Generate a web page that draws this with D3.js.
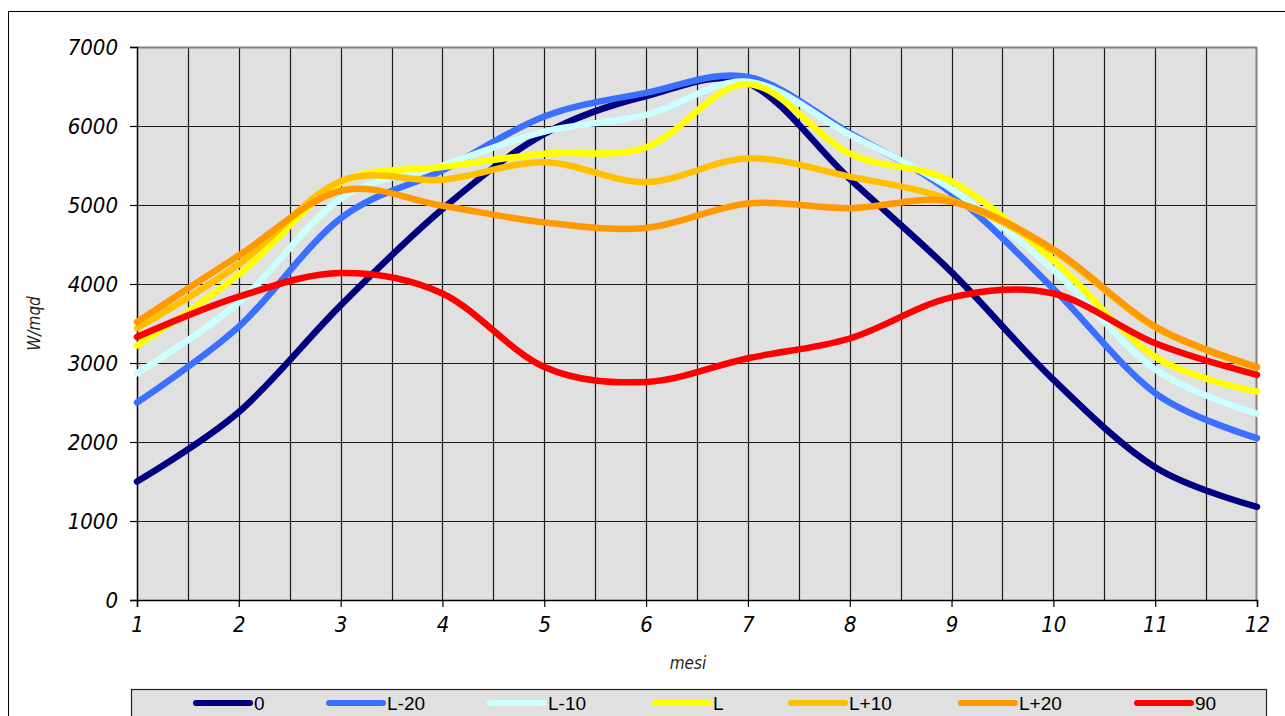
<!DOCTYPE html>
<html>
<head>
<meta charset="utf-8">
<script src="https://cdn.jsdelivr.net/npm/d3@7/dist/d3.min.js"></script>
<style>
  html, body { margin: 0; padding: 0; background: #fff; }
  svg { display: block; }
  .tick-label { font-family: "DejaVu Sans Condensed", "DejaVu Sans", sans-serif; font-stretch: condensed; font-style: italic; font-size: 22px; fill: #000; }
  .axis-title { font-family: "DejaVu Sans Condensed", "DejaVu Sans", sans-serif; font-stretch: condensed; font-style: italic; font-size: 17px; fill: #222; }
  .legend-text { font-family: "Liberation Sans Narrow", "Arial Narrow", sans-serif; font-stretch: condensed; font-size: 19px; fill: #000; }
</style>
</head>
<body>
<svg id="chart" width="1285" height="716"></svg>
<script>
// ---- data ----
const months = [1, 2, 3, 4, 5, 6, 7, 8, 9, 10, 11, 12];
const seriesNames = ["0", "L-20", "L-10", "L", "L+10", "L+20", "90"];
const seriesColors = ["#000080", "#3A6FFF", "#CCFFFF", "#FFFF00", "#FFC000", "#FF9900", "#FF0000"];
const s0   = [1500, 2380, 3730, 4950, 5900, 6380, 6540, 5330, 4150, 2790, 1680, 1180];
const sL20 = [2500, 3460, 4830, 5440, 6120, 6420, 6620, 5910, 5150, 3940, 2620, 2050];
const sL10 = [2870, 3770, 5080, 5500, 5930, 6140, 6560, 5890, 5200, 4180, 2920, 2360];
const sL   = [3220, 4120, 5280, 5480, 5650, 5730, 6530, 5650, 5300, 4300, 3080, 2640];
const sLp10 = [3440, 4250, 5300, 5320, 5540, 5290, 5590, 5360, 5060, 4420, 3450, 2940];
const sLp20 = [3520, 4360, 5180, 4990, 4780, 4710, 5020, 4960, 5040, 4440, 3460, 2950];
const s90  = [3330, 3840, 4140, 3880, 2950, 2760, 3060, 3310, 3830, 3880, 3250, 2850];
const yTicks = [0, 1000, 2000, 3000, 4000, 5000, 6000, 7000];
const xTicks = [1, 2, 3, 4, 5, 6, 7, 8, 9, 10, 11, 12];
const xMinorGrid = [1.5, 2, 2.5, 3, 3.5, 4, 4.5, 5, 5.5, 6, 6.5, 7, 7.5, 8, 8.5, 9, 9.5, 10, 10.5, 11, 11.5];
const yTitle = "W/mqd";
const xTitle = "mesi";

const allSeries = [s0, sL20, sL10, sL, sLp10, sLp20, s90];

// ---- layout ----
const svg = d3.select("#chart");
const pL = 137, pR = 1257, pT = 47, pB = 600;
const x = d3.scaleLinear().domain([1, 12]).range([pL, pR]);
const y = d3.scaleLinear().domain([0, 7000]).range([pB, pT]);

// outer frame
svg.append("rect").attr("x", 0).attr("y", 0).attr("width", 1285).attr("height", 716).attr("fill", "#fff");
svg.append("line").attr("x1", 8.5).attr("x2", 8.5).attr("y1", 11).attr("y2", 716).attr("stroke", "#000").attr("stroke-width", 1);
svg.append("line").attr("x1", 8).attr("x2", 1285).attr("y1", 11.5).attr("y2", 11.5).attr("stroke", "#000").attr("stroke-width", 1);

// plot background
svg.append("rect").attr("x", pL).attr("y", pT).attr("width", pR - pL).attr("height", pB - pT).attr("fill", "#E0E0E0");

// grid
const grid = svg.append("g");
grid.selectAll("line.h").data(yTicks.filter(d => d > 0 && d < 7000)).join("line")
  .attr("x1", pL).attr("x2", pR)
  .attr("y1", d => Math.round(y(d)) + 0.5).attr("y2", d => Math.round(y(d)) + 0.5)
  .attr("stroke", "#1a1a1a").attr("stroke-width", 1.2);
grid.selectAll("line.v").data(xMinorGrid).join("line")
  .attr("x1", d => Math.round(x(d)) + 0.5).attr("x2", d => Math.round(x(d)) + 0.5)
  .attr("y1", pT).attr("y2", pB)
  .attr("stroke", "#1a1a1a").attr("stroke-width", 1.2);

// plot border top/right (gray)
svg.append("path").attr("d", `M${pL},${pT + 0.5}H${pR - 0.5}V${pB}`)
  .attr("fill", "none").attr("stroke", "#808080").attr("stroke-width", 2);

// axes
const yAxis = d3.axisLeft(y).tickValues(yTicks).tickSize(7).tickFormat(d3.format("d")).tickPadding(12);
const gy = svg.append("g").attr("transform", `translate(${pL},0)`).call(yAxis);
gy.attr("font-size", null).attr("font-family", null);
gy.select(".domain").attr("stroke", "#000").attr("stroke-width", 1.5);
gy.selectAll(".tick line").attr("stroke", "#000").attr("stroke-width", 1.2);
gy.selectAll(".tick text").attr("class", "tick-label");

const xAxis = d3.axisBottom(x).tickValues(xTicks).tickSize(7).tickFormat(d3.format("d")).tickPadding(9);
const gx = svg.append("g").attr("transform", `translate(0,${pB})`).call(xAxis);
gx.attr("font-size", null).attr("font-family", null);
gx.select(".domain").attr("stroke", "#000").attr("stroke-width", 1.5);
gx.selectAll(".tick line").attr("stroke", "#000").attr("stroke-width", 1.2);
gx.selectAll(".tick text").attr("class", "tick-label");

// axis titles
svg.append("text").attr("class", "axis-title")
  .attr("transform", `translate(40,${(pT + pB) / 2}) rotate(-90)`)
  .attr("text-anchor", "middle").text(yTitle);
svg.append("text").attr("class", "axis-title")
  .attr("x", (pL + pR) / 2 - 9).attr("y", 669)
  .attr("text-anchor", "middle").text(xTitle);

// lines
const line = d3.line()
  .x((d, i) => x(months[i]))
  .y(d => y(d))
  .curve(d3.curveCardinal.tension(0));

svg.append("g").selectAll("path").data(allSeries).join("path")
  .attr("d", d => line(d))
  .attr("fill", "none")
  .attr("stroke", (d, i) => seriesColors[i])
  .attr("stroke-width", 6.5)
  .attr("stroke-linecap", "round")
  .attr("stroke-linejoin", "round");

// legend
const legendX0 = [196, 329, 490, 655, 791, 961, 1137];
const lg = svg.append("g");
lg.append("rect").attr("x", 131.5).attr("y", 689.5).attr("width", 1135).attr("height", 40)
  .attr("fill", "#E0E0E0").attr("stroke", "#222").attr("stroke-width", 1.2);
const items = lg.selectAll("g.item").data(seriesNames).join("g")
  .attr("transform", (d, i) => `translate(${legendX0[i]},703)`);
items.append("line").attr("x1", 0).attr("x2", 54).attr("y1", 0).attr("y2", 0)
  .attr("stroke", (d, i) => seriesColors[i]).attr("stroke-width", 6).attr("stroke-linecap", "round");
items.append("text").attr("class", "legend-text").attr("x", 58).attr("y", 7).text(d => d);
</script>
</body>
</html>
